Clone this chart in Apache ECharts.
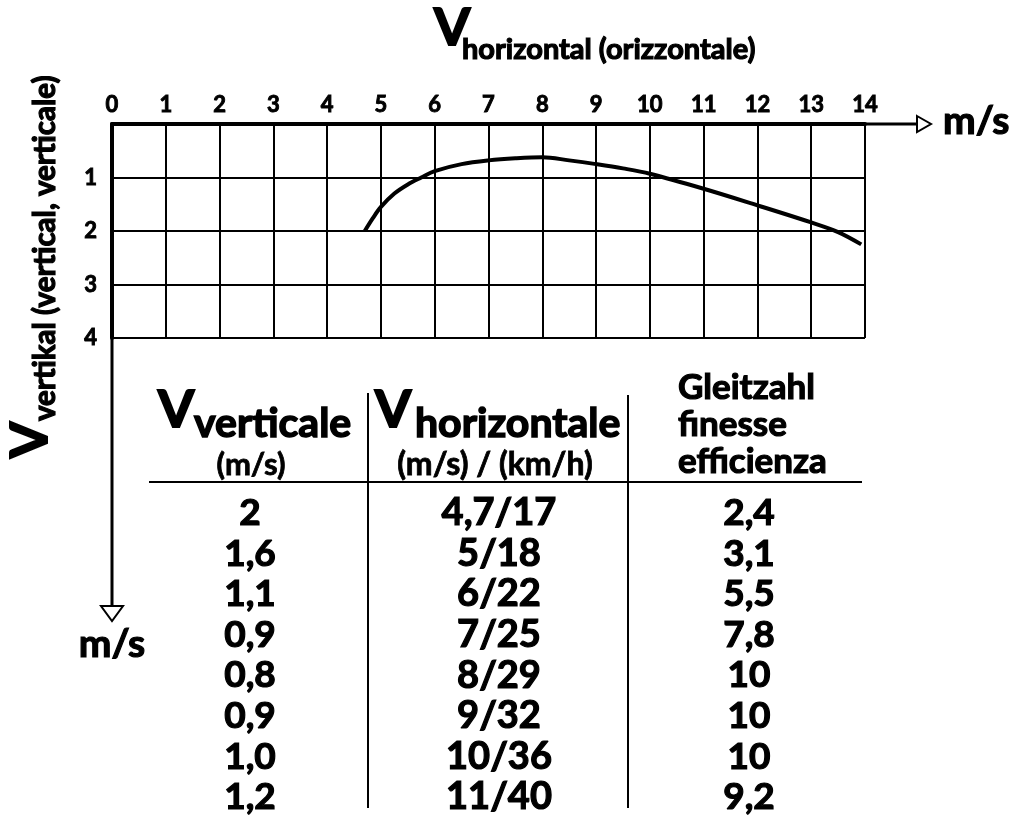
<!DOCTYPE html>
<html><head><meta charset="utf-8">
<script src="https://cdn.jsdelivr.net/npm/echarts@6/dist/echarts.min.js"></script>
<style>html,body{margin:0;padding:0;background:#fff}#c{width:1024px;height:830px}</style>
</head><body><div id="c"></div>
<script>
// ---- data ----
const xMin = 0, xMax = 14;          // horizontal speed axis (m/s)
const yMin = 0, yMax = 4;           // vertical speed axis (m/s, downward)
const curveVh = [4.7, 4.85, 5.0, 5.25, 5.5, 5.75, 6.0, 6.5, 7.0, 7.5, 8.0, 8.5, 9.0, 9.5, 10, 11, 12, 13, 13.5, 13.93];
const curveVv = [2.0, 1.76, 1.55, 1.3, 1.13, 1.0, 0.88, 0.75, 0.68, 0.64, 0.62, 0.68, 0.75, 0.83, 0.93, 1.21, 1.52, 1.84, 2.02, 2.25];
const tblVv = ['2', '1,6', '1,1', '0,9', '0,8', '0,9', '1,0', '1,2'];
const tblVh = ['4,7/17', '5/18', '6/22', '7/25', '8/29', '9/32', '10/36', '11/40'];
const tblGlide = ['2,4', '3,1', '5,5', '7,8', '10', '10', '10', '9,2'];
const headGlide = ['Gleitzahl', 'finesse', 'efficienza'];

// ---- layout ----
const F = 'Lato, "DejaVu Sans", sans-serif';
const G = {left: 112, top: 124, width: 753, height: 214};
const chart = echarts.init(document.getElementById('c'), null, {renderer: 'canvas'});

function txt(x, y, text, size, opt) {
  opt = opt || {};
  return {type: 'text', x: x, y: y, rotation: opt.rot || 0, z: 10,
    style: {text: text, fill: '#000', font: 'bold ' + size + 'px ' + F,
      stroke: '#000', lineWidth: opt.lw != null ? opt.lw : 1.2,
      align: opt.align || 'left', verticalAlign: opt.va || 'middle'}};
}
function line(x1, y1, x2, y2, w) {
  return {type: 'line', z: 5, shape: {x1: x1, y1: y1, x2: x2, y2: y2}, style: {stroke: '#000', lineWidth: w}};
}

const graphics = [];
const gr = G.left + G.width, gb = G.top + G.height;
// axis extensions with open arrowheads
graphics.push(line(gr, G.top, 917, G.top, 3));
graphics.push({type: 'polygon', z: 6, shape: {points: [[917, 116], [931, 124], [917, 132]]}, style: {fill: '#fff', stroke: '#000', lineWidth: 2}});
graphics.push(line(G.left, gb, G.left, 606, 3));
graphics.push({type: 'polygon', z: 6, shape: {points: [[101, 606], [123, 606], [112, 621]]}, style: {fill: '#fff', stroke: '#000', lineWidth: 2}});
graphics.push(txt(943, 121, 'm/s', 39));
graphics.push(txt(112, 644, 'm/s', 39, {align: 'center'}));
// axis titles
graphics.push(txt(434, 28, 'V', 52, {lw: 2}));
graphics.push(txt(462, 50, 'horizontal (orizzontale)', 29));
graphics.push(txt(30, 458, 'V', 52, {rot: Math.PI / 2, lw: 2}));
graphics.push(txt(45, 421, 'vertikal (vertical, verticale)', 29.5, {rot: Math.PI / 2}));
// table
graphics.push(line(368, 393, 368, 808, 2));
graphics.push(line(628, 395, 628, 808, 2));
graphics.push(line(149, 482, 862, 482, 2));
graphics.push(txt(158, 410, 'V', 52, {lw: 2}));
graphics.push(txt(194, 424, 'verticale', 41, {lw: 1.5}));
graphics.push(txt(251, 465, '(m/s)', 31, {align: 'center', lw: 0.8}));
graphics.push(txt(375, 410, 'V', 52, {lw: 2}));
graphics.push(txt(415, 424, 'horizontale', 41, {lw: 1.5}));
graphics.push(txt(495, 465, '(m/s) / (km/h)', 32, {align: 'center', lw: 0.8}));
headGlide.forEach((t, i) => graphics.push(txt(678, 388 + i * 37, t, 35)));
const rowY0 = 513, rowDy = 40.6;
tblVv.forEach((t, i) => graphics.push(txt(250, rowY0 + i * rowDy, t, 37, {align: 'center'})));
tblVh.forEach((t, i) => graphics.push(txt(499, rowY0 + i * rowDy, t, 38, {align: 'center'})));
tblGlide.forEach((t, i) => graphics.push(txt(749, rowY0 + i * rowDy, t, 37, {align: 'center'})));

const axisLabelStyle = {color: '#000', fontFamily: F, fontWeight: 'bold', fontSize: 22,
  textBorderColor: '#000', textBorderWidth: 0.9};
chart.setOption({
  animation: false,
  backgroundColor: '#fff',
  grid: G,
  xAxis: {type: 'value', position: 'top', min: xMin, max: xMax, interval: 1,
    axisLine: {show: true, onZero: false, lineStyle: {color: '#000', width: 4}},
    axisTick: {show: false},
    axisLabel: Object.assign({margin: 8, showMinLabel: true, showMaxLabel: true}, axisLabelStyle),
    splitLine: {show: true, lineStyle: {color: '#000', width: 2}}},
  yAxis: {type: 'value', inverse: true, min: yMin, max: yMax, interval: 1,
    axisLine: {show: true, onZero: false, lineStyle: {color: '#000', width: 4}},
    axisTick: {show: false},
    axisLabel: Object.assign({margin: 15, formatter: v => v === 0 ? '' : String(v)}, axisLabelStyle),
    splitLine: {show: true, lineStyle: {color: '#000', width: 2}}},
  series: [{type: 'line', smooth: 0.35, showSymbol: false, z: 4,
    lineStyle: {color: '#000', width: 4},
    data: curveVh.map((x, i) => [x, curveVv[i]])}],
  graphic: graphics
});
</script></body></html>
